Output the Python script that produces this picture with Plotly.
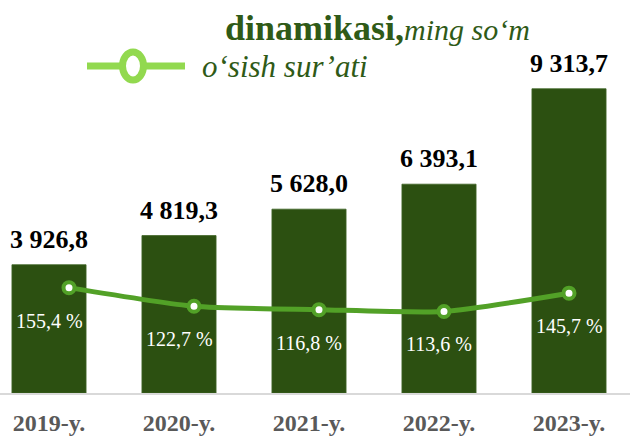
import plotly.graph_objects as go

years = ["2019-y.", "2020-y.", "2021-y.", "2022-y.", "2023-y."]
values = [3926.8, 4819.3, 5628.0, 6393.1, 9313.7]
growth = [155.4, 122.7, 116.8, 113.6, 145.7]
value_labels = ["3 926,8", "4 819,3", "5 628,0", "6 393,1", "9 313,7"]
growth_labels = ["155,4 %", "122,7 %", "116,8 %", "113,6 %", "145,7 %"]

BAR = "#2c5011"
LINE = "#52a127"
LEG = "#92d94f"
TITLE = "#2f5a17"
SERIF = "Liberation Serif, Times New Roman, serif"

W, H = 630, 436
T, B = 60, 41
PH = H - T - B

def py(p):  # pixel y -> paper y
    return (H - B - p) / PH

fig = go.Figure()
fig.add_trace(go.Bar(x=years, y=values, marker=dict(color=BAR, line=dict(color="#3d6324", width=0.8)),
                     xaxis="x", yaxis="y", showlegend=False, hoverinfo="skip"))
fig.add_trace(go.Scatter(x=years, y=growth, mode="lines+markers", xaxis="x2", yaxis="y2",
                         line=dict(color=LINE, width=5, shape="spline", smoothing=0.6),
                         marker=dict(size=11, color="white", line=dict(color=LINE, width=4)),
                         showlegend=False, hoverinfo="skip"))

ann = []
for yr, v, lab in zip(years, values, value_labels):
    ann.append(dict(x=yr, y=v, xref="x", yref="y", text="<b>" + lab + "</b>", showarrow=False,
                    yanchor="bottom", yshift=9,
                    font=dict(family=SERIF, size=26, color="black")))
for yr, g, lab in zip(years, growth, growth_labels):
    ann.append(dict(x=yr, y=g, xref="x", yref="y2", text=lab, showarrow=False,
                    yanchor="middle", yshift=-33,
                    font=dict(family=SERIF, size=20, color="white")))

ann.append(dict(xref="paper", yref="paper", x=223 / W, y=py(28), xanchor="left", yanchor="middle",
                text="<b>dinamikasi,</b><i><span style='font-size:30px'>ming so‘m</span></i>",
                showarrow=False, font=dict(family=SERIF, size=36, color=TITLE)))
ann.append(dict(xref="paper", yref="paper", x=200 / W, y=py(67), xanchor="left", yanchor="middle",
                text="<i>o‘sish sur’ati</i>", showarrow=False,
                font=dict(family=SERIF, size=31, color=TITLE)))

shapes = [
    dict(type="line", xref="paper", yref="paper", x0=87 / W, x1=185 / W, y0=py(66), y1=py(66),
         line=dict(color=LEG, width=7)),
    dict(type="circle", xref="paper", yref="paper", xsizemode="pixel", ysizemode="pixel",
         xanchor=133 / W, yanchor=py(66), x0=-10.5, x1=10.5, y0=-14, y1=14,
         fillcolor="white", line=dict(color=LEG, width=7)),
]

fig.update_layout(
    width=W, height=H, margin=dict(l=0, r=0, t=T, b=B),
    paper_bgcolor="white", plot_bgcolor="white",
    bargap=0.43,
    xaxis=dict(type="category", range=[-49 / 130, 581 / 130], showgrid=False, zeroline=False,
               showline=True, linecolor="#d9d9d9", linewidth=1.5, ticks="",
               tickfont=dict(family=SERIF, size=24, color="#595959"),
               tickprefix="<b>", ticksuffix="</b>",
               ticklabelstandoff=7),
    xaxis2=dict(type="category", overlaying="x", range=[-69 / 125, 561 / 125], visible=False),
    yaxis=dict(range=[0, PH / 0.03286], visible=False),
    yaxis2=dict(overlaying="y", range=[113.6 - 82 / 0.574, 113.6 + 253 / 0.574], visible=False),
    annotations=ann, shapes=shapes,
)

fig.write_html("out.html", config={"displayModeBar": False},
               post_script="document.body.style.margin='0';document.body.style.overflow='hidden';")
